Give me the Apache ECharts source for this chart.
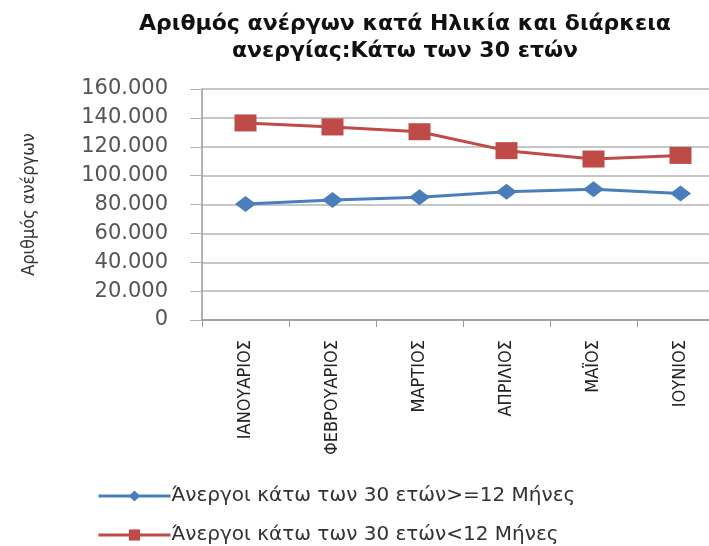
<!DOCTYPE html>
<html>
<head>
<meta charset="utf-8">
<script src="https://cdn.jsdelivr.net/npm/echarts@6/dist/echarts.min.js"></script>
<style>
  html, body { margin: 0; padding: 0; background: #fff; overflow: hidden; }
  /* plot runs past the right edge in the reference, so the canvas is a bit wider than the window */
  #chart { width: 724px; height: 546px; }
</style>
</head>
<body>
<div id="chart"></div>
<script>
const months = ['ΙΑΝΟΥΑΡΙΟΣ', 'ΦΕΒΡΟΥΑΡΙΟΣ', 'ΜΑΡΤΙΟΣ', 'ΑΠΡΙΛΙΟΣ', 'ΜΑΪΟΣ', 'ΙΟΥΝΙΟΣ']
const longTerm = [80300, 83100, 85000, 88900, 90500, 87700]
const shortTerm = [136500, 133700, 130400, 117300, 111500, 114000]
const seriesNames = [
  'Άνεργοι κάτω των 30 ετών>=12 Μήνες',
  'Άνεργοι κάτω των 30 ετών<12 Μήνες',
]
const titleText = 'Αριθμός ανέργων κατά Ηλικία και διάρκεια\nανεργίας:Κάτω των 30 ετών'
const yName = 'Αριθμός ανέργων'

const blue = '#4a7ebb'
const red = '#be4b48'
const grey = '#b3b3b3'
const narrow = '"DejaVu Sans Condensed", "Liberation Sans Narrow", "DejaVu Sans", sans-serif'

// 160000 -> "160.000"
function fmt(v) {
  return String(v).replace(/\B(?=(\d{3})+(?!\d))/g, '.')
}

const chart = echarts.init(document.getElementById('chart'))
chart.setOption({
  animation: false,
  title: {
    text: titleText,
    left: 400,
    textAlign: 'center',
    top: 6,
    textStyle: {
      fontFamily: 'DejaVu Sans',
      fontSize: 22,
      fontWeight: 'bold',
      color: '#111',
      lineHeight: 27,
    },
  },
  legend: {
    orient: 'vertical',
    left: 97,
    top: 486,
    padding: 0,
    itemWidth: 72,
    itemHeight: 14,
    itemGap: 19,
    lineStyle: { width: 3 },
    textStyle: {
      fontFamily: 'DejaVu Sans',
      fontSize: 20,
      color: '#333',
      padding: [0, 0, 0, -4],
    },
    data: seriesNames,
  },
  grid: {
    left: 202,
    top: 89,
    width: 522,
    height: 231,
  },
  xAxis: {
    type: 'category',
    data: months,
    boundaryGap: true,
    axisLine: { lineStyle: { color: '#999', width: 1.5 } },
    axisTick: { show: true, length: 7, lineStyle: { color: '#999' } },
    axisLabel: {
      rotate: 90,
      margin: 20,
      fontFamily: narrow,
      fontSize: 18,
      color: '#222',
    },
  },
  yAxis: {
    type: 'value',
    min: 0,
    max: 160000,
    interval: 20000,
    name: yName,
    nameLocation: 'middle',
    nameRotate: 90,
    nameGap: 164,
    nameTextStyle: {
      fontFamily: narrow,
      fontSize: 18,
      color: '#333',
    },
    axisLine: { show: true, lineStyle: { color: '#999', width: 1.5 } },
    axisTick: { show: true, length: 12, lineStyle: { color: grey } },
    axisLabel: {
      formatter: fmt,
      margin: 34,
      fontFamily: 'DejaVu Sans',
      fontSize: 21,
      color: '#555',
    },
    splitLine: { lineStyle: { color: grey, width: 1.5 } },
  },
  series: [
    {
      name: seriesNames[0],
      type: 'line',
      data: longTerm,
      symbol: 'diamond',
      symbolSize: [21, 16],
      itemStyle: { color: blue },
      lineStyle: { color: blue, width: 3 },
    },
    {
      name: seriesNames[1],
      type: 'line',
      data: shortTerm,
      symbol: 'rect',
      symbolSize: [22, 17],
      itemStyle: { color: red },
      lineStyle: { color: red, width: 3 },
    },
  ],
})
</script>
</body>
</html>
